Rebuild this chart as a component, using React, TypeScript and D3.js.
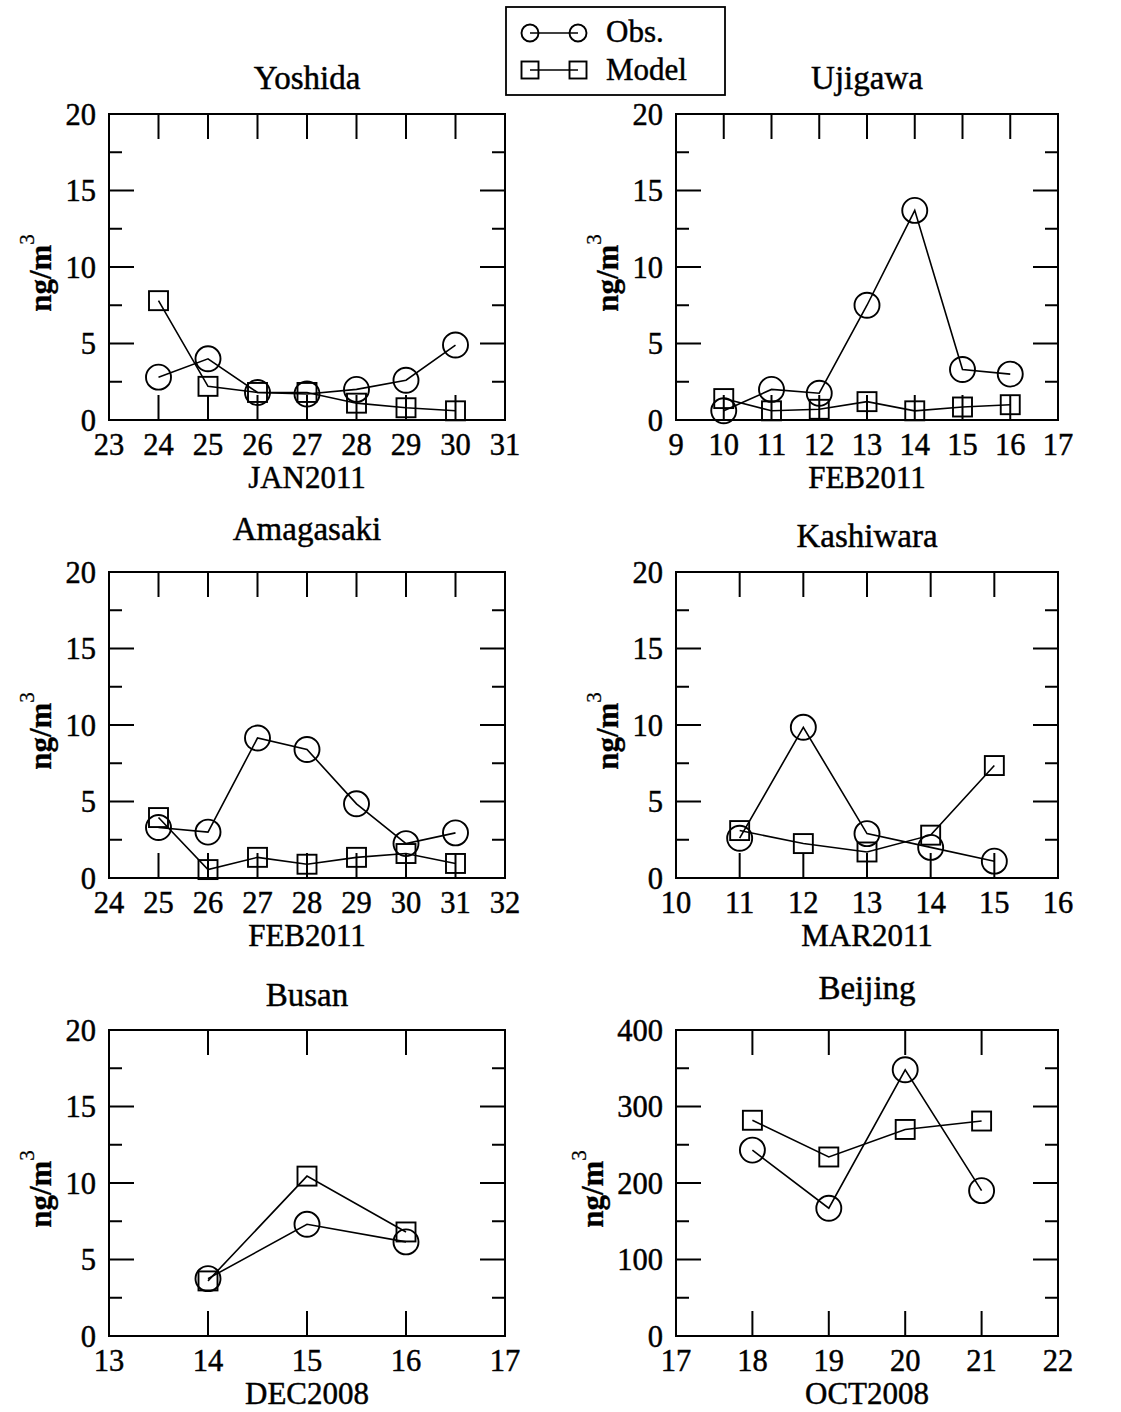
import React from "react";
import * as d3 from "d3";

// ---------- data ----------
const titles = ["Yoshida", "Ujigawa", "Amagasaki", "Kashiwara", "Busan", "Beijing"];
const xTitles = ["JAN2011", "FEB2011", "FEB2011", "MAR2011", "DEC2008", "OCT2008"];
const xDomains: [number, number][] = [[23, 31], [9, 17], [24, 32], [10, 16], [13, 17], [17, 22]];
const yMaxes = [20, 20, 20, 20, 20, 400];
const yTickSteps = [5, 5, 5, 5, 5, 100];

const yoshidaDays = [24, 25, 26, 27, 28, 29, 30];
const yoshidaObs = [2.8, 4.0, 1.8, 1.7, 2.0, 2.6, 4.9];
const yoshidaModel = [7.8, 2.2, 1.8, 1.8, 1.1, 0.8, 0.6];

const ujigawaDays = [10, 11, 12, 13, 14, 15, 16];
const ujigawaObs = [0.6, 2.0, 1.75, 7.5, 13.7, 3.3, 3.0];
const ujigawaModel = [1.4, 0.6, 0.7, 1.2, 0.6, 0.85, 1.0];

const amagasakiDays = [25, 26, 27, 28, 29, 30, 31];
const amagasakiObs = [3.3, 3.0, 9.15, 8.4, 4.85, 2.25, 2.95];
const amagasakiModel = [3.95, 0.55, 1.35, 0.9, 1.35, 1.6, 0.95];

const kashiwaraDays = [11, 12, 13, 14, 15];
const kashiwaraObs = [2.6, 9.85, 2.9, 2.0, 1.1];
const kashiwaraModel = [3.1, 2.25, 1.7, 2.8, 7.35];

const busanDays = [14, 15, 16];
const busanObs = [3.75, 7.3, 6.15];
const busanModel = [3.6, 10.45, 6.8];

const beijingDays = [18, 19, 20, 21];
const beijingObs = [243, 167, 348, 190];
const beijingModel = [282, 234, 270, 281];

const panelDays = [yoshidaDays, ujigawaDays, amagasakiDays, kashiwaraDays, busanDays, beijingDays];
const panelObs = [yoshidaObs, ujigawaObs, amagasakiObs, kashiwaraObs, busanObs, beijingObs];
const panelModel = [yoshidaModel, ujigawaModel, amagasakiModel, kashiwaraModel, busanModel, beijingModel];

const legendLabels = ["Obs.", "Model"];

// ---------- layout ----------
const colX: [number, number][] = [[109, 505], [676, 1058]];
const rowTop = [114, 572, 1030];
const plotH = 306;
const titleOffsets = [25, 25, 32, 25, 24, 31];

const FONT = "'Liberation Serif', 'Times New Roman', Times, serif";
const TXT = { fontFamily: FONT, fill: "#000", stroke: "#000", strokeWidth: 0.45 } as const;
const MAJOR = 25;
const MINOR = 13;
const R = 12.5;
const SQ = 19;

function Circle({ cx, cy, r }: { cx: number; cy: number; r: number }) {
  return <circle cx={cx} cy={cy} r={r} fill="none" stroke="#000" strokeWidth={1.9} />;
}
function Square({ cx, cy, s }: { cx: number; cy: number; s: number }) {
  return <rect x={cx - s / 2} y={cy - s / 2} width={s} height={s} fill="none" stroke="#000" strokeWidth={1.9} />;
}

function Panel({ i }: { i: number }) {
  const col = i % 2;
  const row = Math.floor(i / 2);
  const [x0, x1] = colX[col];
  const top = rowTop[row];
  const bottom = top + plotH;
  const [d0, d1] = xDomains[i];
  const x = d3.scaleLinear().domain([d0, d1]).range([x0, x1]);
  const y = d3.scaleLinear().domain([0, yMaxes[i]]).range([bottom, top]);
  const step = yTickSteps[i];
  const yMajor = d3.range(0, yMaxes[i] + step / 2, step);
  const yMinor = d3.range(step / 2, yMaxes[i], step);
  const xMajor = d3.range(d0, d1 + 0.5, 1);
  const days = panelDays[i];
  const line = d3.line<number>().x((_, k) => x(days[k])).y((v) => y(v));
  const maxLabelChars = String(yMaxes[i]).length;
  const yLabelX = x0 - (28 + maxLabelChars * 15);
  const cy = (top + bottom) / 2 + 6;

  return (
    <g>
      {/* title */}
      <text x={(x0 + x1) / 2} y={top - titleOffsets[i]} textAnchor="middle" {...TXT} fontSize={33}>
        {titles[i]}
      </text>
      {/* frame */}
      <rect x={x0} y={top} width={x1 - x0} height={plotH} fill="none" stroke="#000" strokeWidth={2} />
      {/* y ticks */}
      {yMajor.map((v) => (
        <g key={"ym" + v}>
          <line x1={x0} x2={x0 + MAJOR} y1={y(v)} y2={y(v)} stroke="#000" strokeWidth={2} />
          <line x1={x1} x2={x1 - MAJOR} y1={y(v)} y2={y(v)} stroke="#000" strokeWidth={2} />
          <text x={x0 - 13} y={y(v)} dy="0.35em" textAnchor="end" {...TXT} fontSize={30.5}>
            {v}
          </text>
        </g>
      ))}
      {yMinor.map((v) => (
        <g key={"yn" + v}>
          <line x1={x0} x2={x0 + MINOR} y1={y(v)} y2={y(v)} stroke="#000" strokeWidth={2} />
          <line x1={x1} x2={x1 - MINOR} y1={y(v)} y2={y(v)} stroke="#000" strokeWidth={2} />
        </g>
      ))}
      {/* x ticks */}
      {xMajor.map((v) => (
        <g key={"xm" + v}>
          <line x1={x(v)} x2={x(v)} y1={bottom} y2={bottom - MAJOR} stroke="#000" strokeWidth={2} />
          <line x1={x(v)} x2={x(v)} y1={top} y2={top + MAJOR} stroke="#000" strokeWidth={2} />
          <text x={x(v)} y={bottom + 35} textAnchor="middle" {...TXT} fontSize={30.5}>
            {v}
          </text>
        </g>
      ))}
      {/* x title */}
      <text x={(x0 + x1) / 2} y={bottom + 68} textAnchor="middle" {...TXT} fontSize={31}>
        {xTitles[i]}
      </text>
      {/* y title */}
      <text
        transform={`translate(${yLabelX},${cy}) rotate(-90)`}
        textAnchor="middle"
        {...TXT}
        strokeWidth={0.3}
        fontSize={31}
        fontWeight="bold"
      >
        ng/m
        <tspan dy={-17} fontSize={21} fontWeight="normal">3</tspan>
      </text>
      {/* series */}
      <path d={line(panelObs[i]) || ""} fill="none" stroke="#000" strokeWidth={1.6} />
      <path d={line(panelModel[i]) || ""} fill="none" stroke="#000" strokeWidth={1.6} />
      {panelObs[i].map((v, k) => (
        <Circle key={"o" + k} cx={x(days[k])} cy={y(v)} r={R} />
      ))}
      {panelModel[i].map((v, k) => (
        <Square key={"m" + k} cx={x(days[k])} cy={y(v)} s={SQ} />
      ))}
    </g>
  );
}

function Legend() {
  const bx = 506, by = 7, bw = 219, bh = 88;
  const m1 = 530, m2 = 578;
  const rows = [33, 70];
  return (
    <g>
      <rect x={bx} y={by} width={bw} height={bh} fill="#fff" stroke="#000" strokeWidth={1.8} />
      <line x1={m1} x2={m2} y1={rows[0]} y2={rows[0]} stroke="#000" strokeWidth={1.6} />
      <Circle cx={m1} cy={rows[0]} r={8.5} />
      <Circle cx={m2} cy={rows[0]} r={8.5} />
      <line x1={m1} x2={m2} y1={rows[1]} y2={rows[1]} stroke="#000" strokeWidth={1.6} />
      <Square cx={m1} cy={rows[1]} s={17} />
      <Square cx={m2} cy={rows[1]} s={17} />
      <text x={606} y={42} {...TXT} fontSize={31}>{legendLabels[0]}</text>
      <text x={606} y={80} {...TXT} fontSize={31}>{legendLabels[1]}</text>
    </g>
  );
}

export default function App() {
  return (
    <svg
      width={1121}
      height={1412}
      style={{ position: "absolute", left: 0, top: 0, background: "#fff" }}
    >
      <rect width={1121} height={1412} fill="#fff" />
      {titles.map((_, i) => (
        <Panel key={i} i={i} />
      ))}
      <Legend />
    </svg>
  );
}
